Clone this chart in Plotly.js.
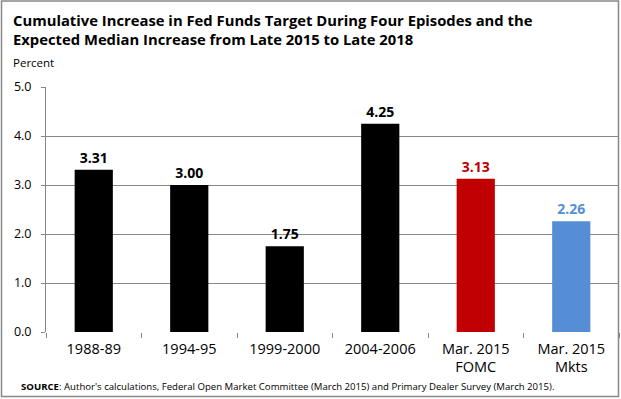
<!DOCTYPE html>
<html><head><meta charset="utf-8">
<script src="https://cdn.plot.ly/plotly-3.0.1.min.js"></script>
<style>html,body{margin:0;padding:0;background:#fff}#c{width:621px;height:399px}</style>
</head><body><div id="c"></div>
<script>
const categories = ["1988-89", "1994-95", "1999-2000", "2004-2006", "Mar. 2015<br>FOMC", "Mar. 2015<br>Mkts"];
const values = [3.31, 3.00, 1.75, 4.25, 3.13, 2.26];
const valueLabels = ["3.31", "3.00", "1.75", "4.25", "3.13", "2.26"];
const barColors = ["#000000", "#000000", "#000000", "#000000", "#C00000", "#558ED5"];
const labelColors = ["#000000", "#000000", "#000000", "#000000", "#C00000", "#558ED5"];
const yTicks = [0, 1, 2, 3, 4, 5];
const yTickLabels = ["0.0", "1.0", "2.0", "3.0", "4.0", "5.0"];

const FONT = "Open Sans, Noto Sans, sans-serif";
const L = 46, R = 2, T = 87, B = 67, W = 621, H = 399;
const pw = W - L - R, ph = H - T - B;
const px = x => (x - L) / pw;
const py = y => (H - B - y) / ph;

const trace = {
  type: "bar", x: categories, y: values,
  marker: {color: barColors, line: {width: 0}},
  text: valueLabels, textposition: "outside", cliponaxis: false,
  textfont: {family: FONT, size: 14, color: labelColors, weight: "bold"},
  hoverinfo: "skip"
};

const layout = {
  width: W, height: H,
  margin: {l: L, r: R, t: T, b: B},
  paper_bgcolor: "#fff", plot_bgcolor: "#fff",
  showlegend: false,
  bargap: 0.6,
  font: {family: FONT, color: "#000"},
  xaxis: {
    type: "category", tickson: "boundaries", ticks: "outside", ticklen: 5,
    tickcolor: "#888", showline: false, showgrid: false, zeroline: false,
    ticklabelstandoff: 6,
    tickfont: {family: FONT, size: 14.5, color: "#000"}
  },
  yaxis: {
    range: [0, 5], tickvals: yTicks, ticktext: yTickLabels,
    ticks: "outside", ticklen: 4, tickcolor: "#888",
    showline: true, linecolor: "#888", linewidth: 1,
    showgrid: true, gridcolor: "#888", gridwidth: 1, zeroline: false,
    ticklabelstandoff: 7,
    tickfont: {family: FONT, size: 12.5, color: "#000"}
  },
  annotations: [
    {xref: "paper", yref: "paper", x: px(11), y: py(8), xanchor: "left", yanchor: "top",
     text: "<b>Cumulative Increase in Fed Funds Target During Four Episodes and the<br>Expected Median Increase from Late 2015 to Late 2018</b>",
     showarrow: false, align: "left", font: {family: FONT, size: 14.8, color: "#000"}},
    {xref: "paper", yref: "paper", x: px(11), y: py(53), xanchor: "left", yanchor: "top",
     text: "Percent", showarrow: false, font: {family: FONT, size: 11.5, color: "#000"}},
    {xref: "paper", yref: "paper", x: px(19), y: py(378), xanchor: "left", yanchor: "top",
     text: "<b>SOURCE</b>: Author's calculations, Federal Open Market Committee (March 2015) and Primary Dealer Survey (March 2015).",
     showarrow: false, font: {family: FONT, size: 9.6, color: "#000"}}
  ],
  shapes: [
    {type: "rect", xref: "paper", yref: "paper", x0: px(1.5), x1: px(618.5), y0: py(1), y1: py(396.5),
     line: {color: "#888", width: 1.5}, fillcolor: "rgba(0,0,0,0)"}
  ]
};

Plotly.newPlot("c", [trace], layout, {displayModeBar: false, staticPlot: true});
</script></body></html>
